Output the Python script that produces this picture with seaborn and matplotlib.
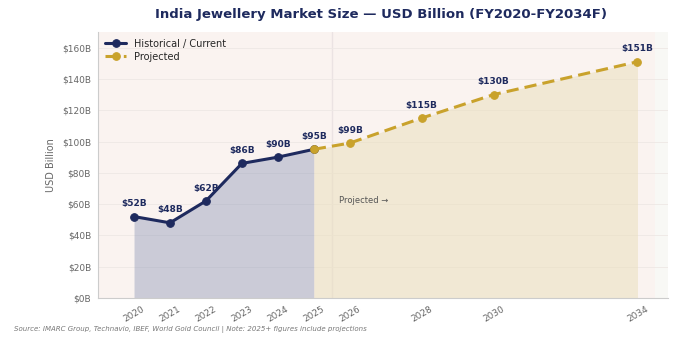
import matplotlib
matplotlib.use("Agg")
import matplotlib.pyplot as plt
import seaborn as sns
import pandas as pd

# Market size, USD billion
hist_years = [2020, 2021, 2022, 2023, 2024, 2025]
hist_values = [52, 48, 62, 86, 90, 95]
proj_years = [2025, 2026, 2028, 2030, 2034]
proj_values = [95, 99, 115, 130, 151]
tick_years = [2020, 2021, 2022, 2023, 2024, 2025, 2026, 2028, 2030, 2034]
y_ticks = [0, 20, 40, 60, 80, 100, 120, 140, 160]

NAVY = "#1e2a5e"
GOLD = "#c9a22c"

sns.set_theme(style="whitegrid")
plt.rcParams["font.family"] = ["DejaVu Sans"]

hist_df = pd.DataFrame({"year": hist_years, "value": hist_values})
proj_df = pd.DataFrame({"year": proj_years, "value": proj_values})

fig = plt.figure(figsize=(6.81, 3.37), dpi=100)
fig.patch.set_facecolor("white")
ax = fig.add_axes([0.144, 0.116, 0.837, 0.789])
ax.set_facecolor("#f8f8f5")

# background bands
ax.axvspan(2019, 2034.5, color="#fdf1ee", alpha=0.6, lw=0, zorder=0)
ax.axvline(2025.5, color="#ebe3e3", lw=1.0, zorder=0.5)

# areas under the curves
ax.fill_between(hist_years, hist_values, color="#7f8bb0", alpha=0.38, lw=0, zorder=1)
ax.fill_between(proj_years, proj_values, color="#eadfbd", alpha=0.55, lw=0, zorder=1)

sns.lineplot(data=hist_df, x="year", y="value", ax=ax, color=NAVY, lw=2.2,
             marker="o", markersize=5.5, markeredgecolor=NAVY,
             label="Historical / Current", zorder=4)
sns.lineplot(data=proj_df, x="year", y="value", ax=ax, color=GOLD, lw=2.2,
             linestyle=(0, (4, 2)), marker="o", markersize=5.5,
             markeredgecolor=GOLD, label="Projected", zorder=4)

for x, v in zip(hist_years, hist_values):
    ax.annotate(f"${v}B", (x, v), xytext=(0, 6), textcoords="offset points",
                ha="center", va="bottom", fontsize=6.5, fontweight="bold",
                color=NAVY, zorder=5)
for x, v in zip(proj_years[1:], proj_values[1:]):
    ax.annotate(f"${v}B", (x, v), xytext=(0, 6), textcoords="offset points",
                ha="center", va="bottom", fontsize=6.5, fontweight="bold",
                color=NAVY, zorder=5)

ax.text(2025.7, 62, "Projected →", fontsize=6, color="#555555", va="center")

ax.set_xlim(2019, 2034.85)
ax.set_ylim(0, 170)
ax.set_xticks(tick_years)
ax.set_xticklabels([str(y) for y in tick_years], rotation=30, fontsize=6.5,
                   color="#666666")
ax.set_yticks(y_ticks)
ax.set_yticklabels([f"${v}B" for v in y_ticks], fontsize=6.5, color="#666666")
ax.tick_params(axis="both", length=3, width=0.6, color="#aaaaaa", pad=2)
ax.set_xlabel("")
ax.set_ylabel("USD Billion", fontsize=7, color="#666666")
ax.grid(axis="y", color="#eee8e5", lw=0.6)
ax.grid(axis="x", visible=False)
for s in ["top", "right"]:
    ax.spines[s].set_visible(False)
for s in ["left", "bottom"]:
    ax.spines[s].set_color("#cccccc")
    ax.spines[s].set_linewidth(0.8)

leg = ax.legend(loc="upper left", fontsize=7, frameon=False,
                handlelength=2.2, borderaxespad=0.3, labelspacing=0.3)

fig.suptitle("India Jewellery Market Size — USD Billion (FY2020-FY2034F)",
             x=0.56, y=0.975, fontsize=9.5, fontweight="bold", color="#1e2a5e")
fig.text(0.02, 0.018,
         "Source: IMARC Group, Technavio, IBEF, World Gold Council | Note: 2025+ figures include projections",
         fontsize=5, color="#777777", style="italic")

fig.savefig("out.png", dpi=100)
